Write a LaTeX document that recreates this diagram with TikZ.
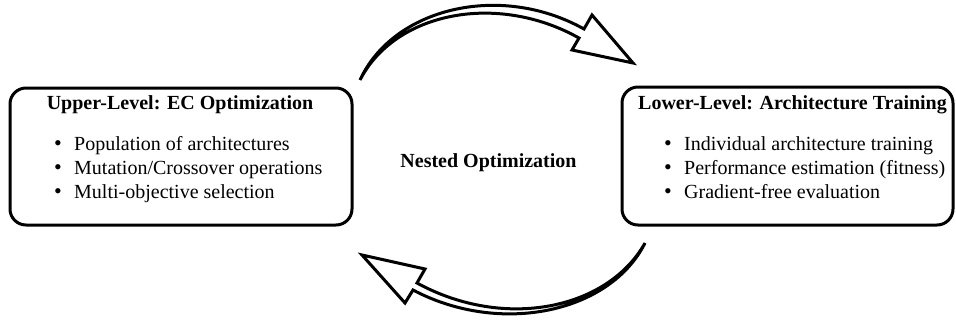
\documentclass[tikz,border=0pt]{standalone}
\usepackage{fontspec}
\setmainfont{Liberation Serif}
\newcommand{\bul}{\makebox[20pt][l]{\fontsize{22}{22}\selectfont •}}
\begin{document}
\begin{tikzpicture}[x=1pt,y=-1pt,
  panel/.style={draw, line width=3pt, rounded corners=16pt, inner sep=0pt},
  heading/.style={font=\bfseries\fontsize{20}{24}\selectfont, inner sep=0pt, anchor=base},
  item/.style={font=\fontsize{20}{24}\selectfont, inner sep=0pt, anchor=base west},
  bigarrow/.style={draw, fill=white, line width=3pt, line join=miter, miter limit=10}]
\useasboundingbox (0,0) rectangle (956,322);

% the two level panels
\node[panel, minimum width=342pt, minimum height=137pt] (upper) at (181,156.5) {};
\node[panel, minimum width=331pt, minimum height=138pt] (lower) at (787.5,156) {};

% upper level contents
\node[heading] (upT) at (180,109) {Upper-Level: EC Optimization};
\node[item] (up1) at (54,150) {\bul Population of architectures};
\node[item] (up2) at (54,174) {\bul Mutation/Crossover operations};
\node[item] (up3) at (54,198) {\bul Multi-objective selection};

% lower level contents
\node[heading, anchor=base west] (loT) at (638,109) {Lower-Level: Architecture Training};
\node[item] (lo1) at (664,150) {\bul Individual architecture training};
\node[item] (lo2) at (664,174) {\bul Performance estimation (fitness)};
\node[item] (lo3) at (664,198) {\bul Gradient-free evaluation};

% centre label
\node[heading] (nest) at (488.5,167) {Nested Optimization};

% hollow curved arrows: upper -> lower on top, lower -> upper below
\coordinate (topS) at (360,80);
\coordinate (topT) at (633,63);
\path[bigarrow] (topS) .. controls (393,8) and (500,-18) .. (584,29)
  -- (592,15) -- (topT) -- (572,50) -- (579,38)
  .. controls (497,-8) and (395,12) .. (topS) -- cycle;

\coordinate (botS) at (645,243);
\coordinate (botT) at (362,255);
\path[bigarrow] (botS) .. controls (610,313) and (500,336) .. (413,290)
  -- (405,303) -- (botT) -- (425,269) -- (417,283)
  .. controls (505,331) and (608,309) .. (botS) -- cycle;
\end{tikzpicture}
\end{document}
